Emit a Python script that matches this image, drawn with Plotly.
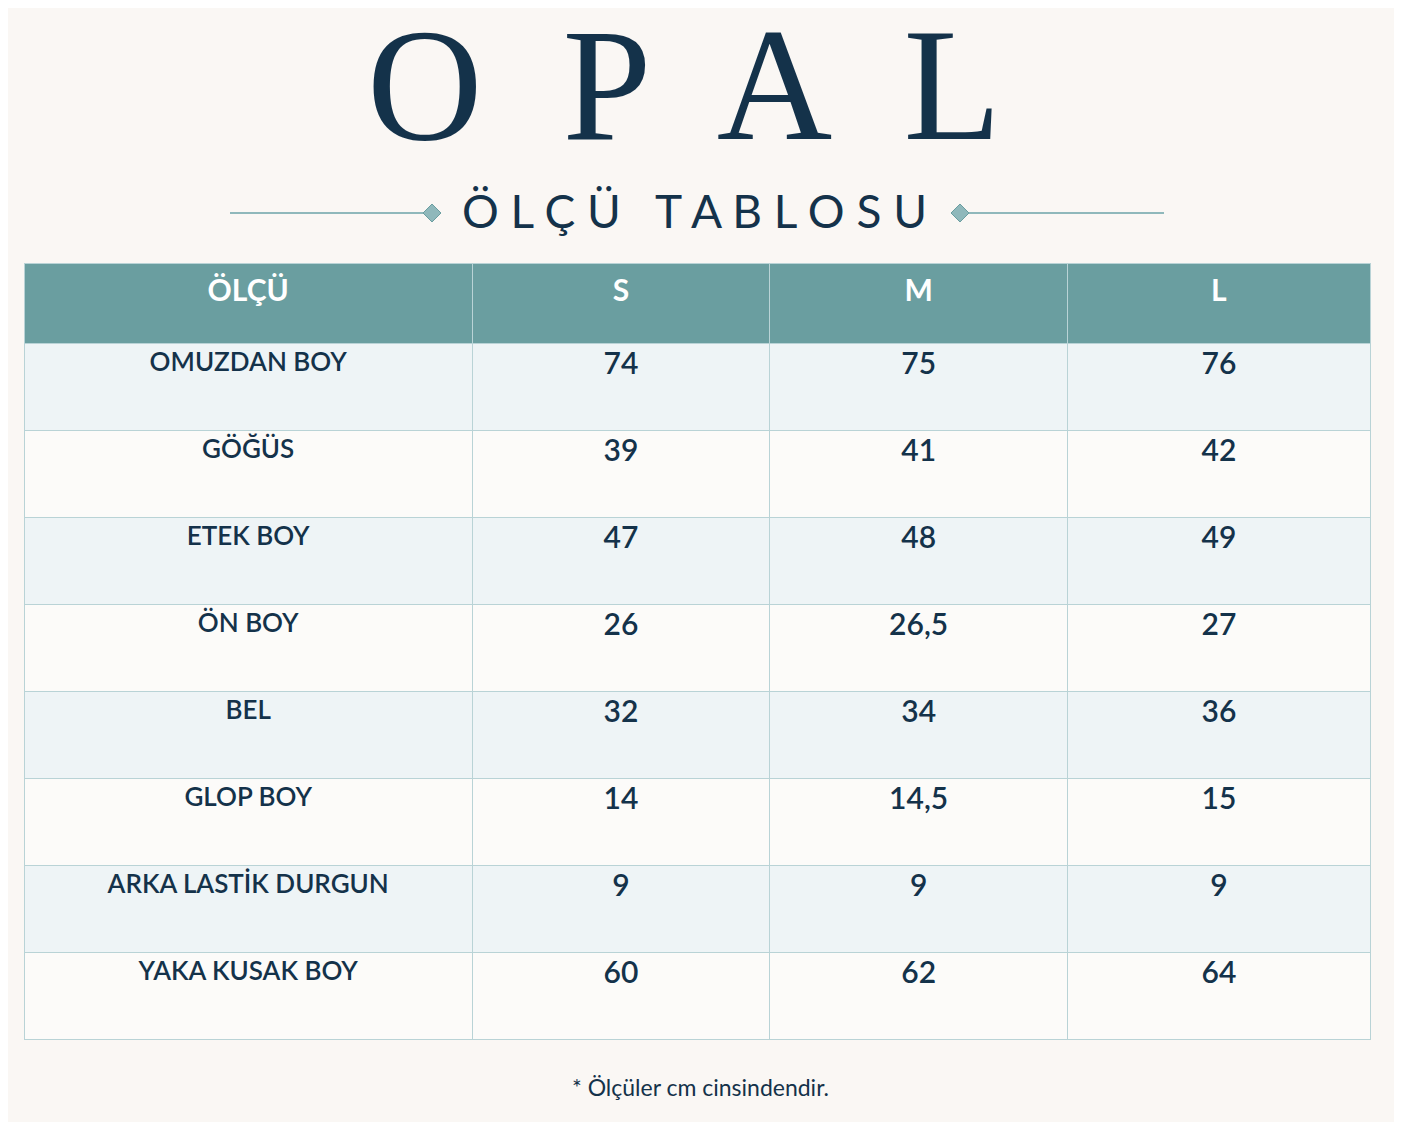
import plotly.graph_objects as go

sizes = ["S", "M", "L"]
measures = ["OMUZDAN BOY", "GÖĞÜS", "ETEK BOY", "ÖN BOY", "BEL", "GLOP BOY", "ARKA LASTİK DURGUN", "YAKA KUSAK BOY"]
s_vals = ["74", "39", "47", "26", "32", "14", "9", "60"]
m_vals = ["75", "41", "48", "26,5", "34", "14,5", "9", "62"]
l_vals = ["76", "42", "49", "27", "36", "15", "9", "64"]

W, H = 1402, 1122
BG = "#faf7f4"
NAVY = "#14324a"
row_fill = ["#eef4f6" if i % 2 == 0 else "#fcfbf9" for i in range(len(measures))]

fig = go.Figure(go.Table(
    domain=dict(x=[16 / W, 1362 / W], y=[1 - 1034 / H, 1 - 255 / H]),
    columnwidth=[448, 297, 298, 302],
    header=dict(values=["<b>ÖLÇÜ</b>"] + [f"<b>{s}</b>" for s in sizes],
                fill_color="#6a9ea0", line_color="#b9d3d6", height=80,
                font=dict(family="Lato", size=30, color="white"), align="center"),
    cells=dict(values=[measures, s_vals, m_vals, l_vals],
               fill_color=[row_fill] * 4, line_color="#b9d3d6", height=87.1,
               font=dict(family="Lato", size=[26, 30, 30, 30], color=NAVY, weight=600), align="center"),
))

ly = 1 - 205 / H
shapes = [
    dict(type="line", xref="paper", yref="paper", x0=222 / W, x1=416 / W, y0=ly, y1=ly,
         line=dict(color="#8fb8bb", width=2)),
    dict(type="line", xref="paper", yref="paper", x0=960 / W, x1=1156 / W, y0=ly, y1=ly,
         line=dict(color="#8fb8bb", width=2)),
]
for cx in (424, 952):
    shapes.append(dict(type="path", xref="paper", yref="paper",
                       path=f"M {(cx-9)/W} {ly} L {cx/W} {ly+9/H} L {(cx+9)/W} {ly} L {cx/W} {ly-9/H} Z",
                       fillcolor="#8fb8bb", line=dict(color="#6a9ea0", width=1)))

ann = [
    dict(text="O  P  A  L", x=0.482, y=1 - 77 / H, xref="paper", yref="paper", showarrow=False,
         yanchor="middle", font=dict(family="Liberation Serif", size=160, color=NAVY)),
    dict(text="Ö L Ç Ü   T A B L O S U", x=0.49, y=1 - 202 / H, xref="paper", yref="paper", showarrow=False,
         yanchor="middle", font=dict(family="Lato", size=46, color=NAVY)),
    dict(text="* Ölçüler cm cinsindendir.", x=0.494, y=1 - 1079 / H, xref="paper", yref="paper", showarrow=False,
         yanchor="middle", font=dict(family="Lato", size=23, color=NAVY)),
]

fig.update_layout(width=W, height=H, margin=dict(l=0, r=0, t=0, b=0),
                  paper_bgcolor=BG, plot_bgcolor=BG, shapes=shapes, annotations=ann)
fig.write_html("out.html")
